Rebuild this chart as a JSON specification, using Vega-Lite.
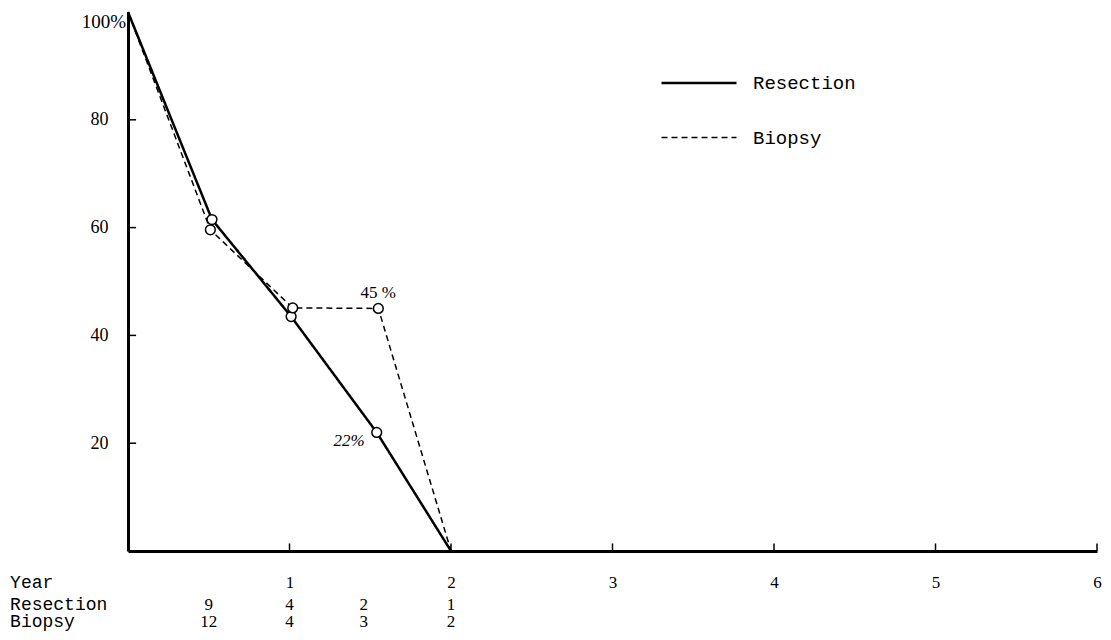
{
  "$schema": "https://vega.github.io/schema/vega-lite/v6.json",
  "width": 969,
  "height": 539,
  "autosize": {"type": "none"},
  "padding": {"left": 128, "top": 12, "right": 14, "bottom": 89},
  "background": "white",
  "config": {
    "view": {"stroke": null},
    "axis": {"grid": false, "domainColor": "black", "labelColor": "black"},
    "text": {"color": "black"}
  },
  "datasets": {
    "survival": [
      {"group": "Resection", "year": 0, "pct": 100},
      {"group": "Resection", "year": 0.52, "pct": 61.5},
      {"group": "Resection", "year": 1.01, "pct": 43.5},
      {"group": "Resection", "year": 1.54, "pct": 22, "note": "22%"},
      {"group": "Resection", "year": 2, "pct": 0},
      {"group": "Biopsy", "year": 0, "pct": 100},
      {"group": "Biopsy", "year": 0.51, "pct": 59.6},
      {"group": "Biopsy", "year": 1.02, "pct": 45.1},
      {"group": "Biopsy", "year": 1.55, "pct": 45, "note": "45 %"},
      {"group": "Biopsy", "year": 2, "pct": 0}
    ],
    "atrisk": [
      {"group": "Resection", "year": 0.5, "n": 9},
      {"group": "Resection", "year": 1, "n": 4},
      {"group": "Resection", "year": 1.46, "n": 2},
      {"group": "Resection", "year": 2, "n": 1},
      {"group": "Biopsy", "year": 0.5, "n": 12},
      {"group": "Biopsy", "year": 1, "n": 4},
      {"group": "Biopsy", "year": 1.46, "n": 3},
      {"group": "Biopsy", "year": 2, "n": 2}
    ],
    "yearTicks": [{"year": 1}, {"year": 2}, {"year": 3}, {"year": 4}, {"year": 5}, {"year": 6}],
    "pctTicks": [{"pct": 20}, {"pct": 40}, {"pct": 60}, {"pct": 80}]
  },
  "layer": [
    {
      "data": {"name": "survival"},
      "mark": {"type": "line", "color": "black"},
      "encoding": {
        "x": {
          "field": "year", "type": "quantitative",
          "scale": {"domain": [0, 6], "nice": false, "zero": false},
          "axis": {
            "title": null, "values": [1, 2, 3, 4, 5, 6], "format": "d", "ticks": false,
            "domainWidth": 3, "labelFont": "Liberation Serif", "labelFontSize": 17,
            "labelPadding": 23, "labelFlush": false
          }
        },
        "y": {
          "field": "pct", "type": "quantitative",
          "scale": {"domain": [0, 100], "nice": false},
          "axis": {
            "title": null, "values": [20, 40, 60, 80], "ticks": false,
            "domainWidth": 3, "labelFont": "Liberation Serif", "labelFontSize": 18,
            "labelPadding": 20
          }
        },
        "strokeDash": {
          "field": "group", "type": "nominal",
          "scale": {"domain": ["Resection", "Biopsy"], "range": [[1, 0], [6, 4]]},
          "legend": {
            "orient": "none", "legendX": 532, "legendY": 32, "title": null,
            "symbolType": "stroke", "symbolSize": 5625, "symbolStrokeColor": "black",
            "labelFont": "Liberation Mono", "labelFontSize": 19, "labelColor": "black",
            "labelOffset": 15, "rowPadding": 6
          }
        },
        "strokeWidth": {
          "field": "group", "type": "nominal",
          "scale": {"domain": ["Resection", "Biopsy"], "range": [2.5, 1.5]}
        },
        "order": {"field": "year", "type": "quantitative"}
      }
    },
    {
      "data": {"name": "yearTicks"},
      "mark": {"type": "rule", "color": "black", "strokeWidth": 1.5},
      "encoding": {
        "x": {"field": "year", "type": "quantitative"},
        "y": {"datum": 0, "type": "quantitative"},
        "y2": {"datum": 1.4}
      }
    },
    {
      "data": {"name": "pctTicks"},
      "mark": {"type": "rule", "color": "black", "strokeWidth": 1.5},
      "encoding": {
        "y": {"field": "pct", "type": "quantitative"},
        "x": {"datum": 0, "type": "quantitative"},
        "x2": {"datum": 0.05}
      }
    },
    {
      "data": {"name": "survival"},
      "transform": [{"filter": "datum.year > 0 && datum.year < 2"}],
      "mark": {"type": "point", "shape": "circle", "filled": true, "fill": "white", "stroke": "black", "strokeWidth": 1.5, "size": 95, "opacity": 1},
      "encoding": {
        "x": {"field": "year", "type": "quantitative"},
        "y": {"field": "pct", "type": "quantitative"}
      }
    },
    {
      "data": {"name": "survival"},
      "transform": [{"filter": "datum.note && datum.group == 'Biopsy'"}],
      "mark": {"type": "text", "font": "Liberation Serif", "fontSize": 17, "align": "center", "baseline": "middle", "dy": -15},
      "encoding": {
        "x": {"field": "year", "type": "quantitative"},
        "y": {"field": "pct", "type": "quantitative"},
        "text": {"field": "note"}
      }
    },
    {
      "data": {"name": "survival"},
      "transform": [{"filter": "datum.note && datum.group == 'Resection'"}],
      "mark": {"type": "text", "font": "Liberation Serif", "fontSize": 17, "fontStyle": "italic", "align": "right", "baseline": "middle", "dx": -12, "dy": 9},
      "encoding": {
        "x": {"field": "year", "type": "quantitative"},
        "y": {"field": "pct", "type": "quantitative"},
        "text": {"field": "note"}
      }
    },
    {
      "data": {"name": "survival"},
      "transform": [{"filter": "datum.year == 0 && datum.group == 'Resection'"}],
      "mark": {"type": "text", "font": "Liberation Serif", "fontSize": 19, "align": "right", "baseline": "middle", "dx": -2, "dy": 10, "text": "100%"},
      "encoding": {
        "x": {"field": "year", "type": "quantitative"},
        "y": {"field": "pct", "type": "quantitative"}
      }
    },
    {
      "data": {"name": "atrisk"},
      "transform": [{"filter": "datum.group == 'Resection'"}],
      "mark": {"type": "text", "font": "Liberation Serif", "fontSize": 17, "align": "center", "baseline": "middle"},
      "encoding": {
        "x": {"field": "year", "type": "quantitative"},
        "y": {"datum": -10, "type": "quantitative"},
        "text": {"field": "n"}
      }
    },
    {
      "data": {"name": "atrisk"},
      "transform": [{"filter": "datum.group == 'Biopsy'"}],
      "mark": {"type": "text", "font": "Liberation Serif", "fontSize": 17, "align": "center", "baseline": "middle"},
      "encoding": {
        "x": {"field": "year", "type": "quantitative"},
        "y": {"datum": -13.2, "type": "quantitative"},
        "text": {"field": "n"}
      }
    },
    {
      "data": {"values": [{"row": "Year"}]},
      "mark": {"type": "text", "font": "Liberation Mono", "fontSize": 18, "align": "left", "baseline": "middle"},
      "encoding": {
        "x": {"datum": -0.73, "type": "quantitative"},
        "y": {"datum": -5.9, "type": "quantitative"},
        "text": {"field": "row"}
      }
    },
    {
      "data": {"values": [{"row": "Resection"}]},
      "mark": {"type": "text", "font": "Liberation Mono", "fontSize": 18, "align": "left", "baseline": "middle"},
      "encoding": {
        "x": {"datum": -0.73, "type": "quantitative"},
        "y": {"datum": -10, "type": "quantitative"},
        "text": {"field": "row"}
      }
    },
    {
      "data": {"values": [{"row": "Biopsy"}]},
      "mark": {"type": "text", "font": "Liberation Mono", "fontSize": 18, "align": "left", "baseline": "middle"},
      "encoding": {
        "x": {"datum": -0.73, "type": "quantitative"},
        "y": {"datum": -13.2, "type": "quantitative"},
        "text": {"field": "row"}
      }
    }
  ]
}
